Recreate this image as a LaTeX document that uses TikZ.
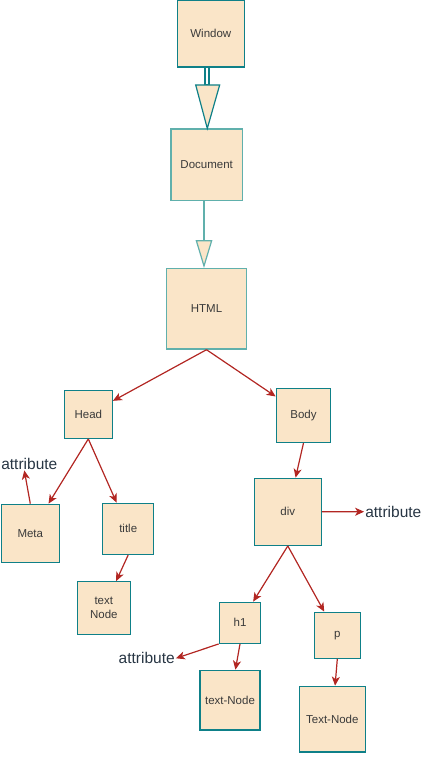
\documentclass[tikz,border=0pt]{standalone}
\usepackage{fontspec}
\setmainfont{Liberation Sans}
\usepackage{xcolor}
\usetikzlibrary{arrows.meta}
\usetikzlibrary{calc}
\definecolor{boxfill}{RGB}{250,229,200}
\definecolor{boxline}{RGB}{14,128,136}
\definecolor{boxlinesoft}{RGB}{96,176,172}
\definecolor{linkred}{RGB}{178,38,34}
\definecolor{labeltext}{RGB}{58,58,58}
\definecolor{attrtext}{RGB}{40,54,68}
\tikzset{
    elem/.style={
        draw=boxline,
        fill=boxfill,
        rectangle,
        line width=1.3pt,
        inner sep=1pt,
        align=center,
        text=labeltext,
        font=\fontsize{11.5}{13.5}\selectfont
    },
    attr/.style={
        inner sep=1pt,
        text=attrtext,
        font=\fontsize{15.5}{18}\selectfont
    },
    treelink/.style={
        draw=linkred,
        line width=1.2pt,
        -{Stealth[length=9pt, width=8pt, inset=2.5pt]}
    }
}

\begin{document}
\begin{tikzpicture}[x=1pt, y=-1pt]
    \useasboundingbox (0,0) rectangle (424,763);

    % Boxes
    \node[elem, minimum width=67pt, minimum height=67pt] (Window) at (210.8,33.5) {Window};
    \node[elem, draw=boxlinesoft, minimum width=71.3pt, minimum height=71.7pt] (Document) at (206.7,164.9) {Document};
    \node[elem, draw=boxlinesoft, minimum width=80.4pt, minimum height=80.3pt] (HTML) at (206.5,308.9) {HTML};
    \node[elem, minimum width=48pt, minimum height=48pt] (Head) at (88.3,414.3) {Head};
    \node[elem, minimum width=54.4pt, minimum height=54pt] (Body) at (303.5,415.3) {Body};
    \node[elem, minimum width=58pt, minimum height=58pt] (Meta) at (30.3,533.3) {Meta};
    \node[elem, minimum width=51pt, minimum height=51pt] (title) at (128.2,528.8) {title};
    \node[elem, minimum width=53pt, minimum height=52.6pt] (textnode) at (103.8,608) {text\\Node};
    \node[elem, minimum width=67pt, minimum height=67pt] (div) at (287.8,511.8) {div};
    \node[elem, minimum width=41.4pt, minimum height=41pt] (h1) at (240,622.8) {h1};
    \node[elem, minimum width=46pt, minimum height=46pt] (p) at (337.3,635.3) {p};
    \node[elem, minimum width=60pt, minimum height=59.7pt] (h1text) at (230,700.2) {text-Node};
    \node[elem, minimum width=66pt, minimum height=65.7pt] (ptext) at (332.3,719.2) {Text-Node};

    % Attributes
    \node[attr] (attrMeta) at (29.3,463.5) {attribute};
    \node[attr] (attrDiv) at (393.3,511.7) {attribute};
    \node[attr] (attrH1) at (146.7,658.3) {attribute};

    % Window to Document
    \filldraw[draw=boxline, fill=white, line width=1.2pt] ($(Window.south)+(-5.8,0)$) rectangle ($(Window.south)+(-1.8,17.3)$);
    \filldraw[draw=boxline, fill=boxfill, line width=1.2pt] ($(Window.south)+(-15.1,17.3)$) -- ($(Window.south)+(8.9,17.3)$) -- ($(Document.north)+(0.6,0)$) -- cycle;

    % Document to HTML
    \draw[draw=boxlinesoft, line width=2pt, -{Triangle[length=28pt, width=16.6pt, fill=boxfill, line width=1.2pt]}] ($(Document.south)+(-2.7,0)$) -- ($(HTML.north)+(-2.5,0)$);

    % Edges
    \draw[treelink] (HTML.south) -- (Head);
    \draw[treelink] (HTML.south) -- (Body);
    \draw[treelink] (Head.south) -- (Meta);
    \draw[treelink] (Head.south) -- (title);
    \draw[treelink] (title.south) -- (textnode);
    \draw[treelink] (Meta.north) -- ($(attrMeta.south)+(-5,0)$);
    \draw[treelink] (Body.south) -- (div);
    \draw[treelink] (div.east) -- (attrDiv.west);
    \draw[treelink] (div.south) -- (h1);
    \draw[treelink] (div.south) -- (p);
    \draw[treelink] (h1.south west) -- (attrH1.east);
    \draw[treelink] (h1.south) -- (h1text);
    \draw[treelink] (p.south) -- (ptext);
\end{tikzpicture}
\end{document}
